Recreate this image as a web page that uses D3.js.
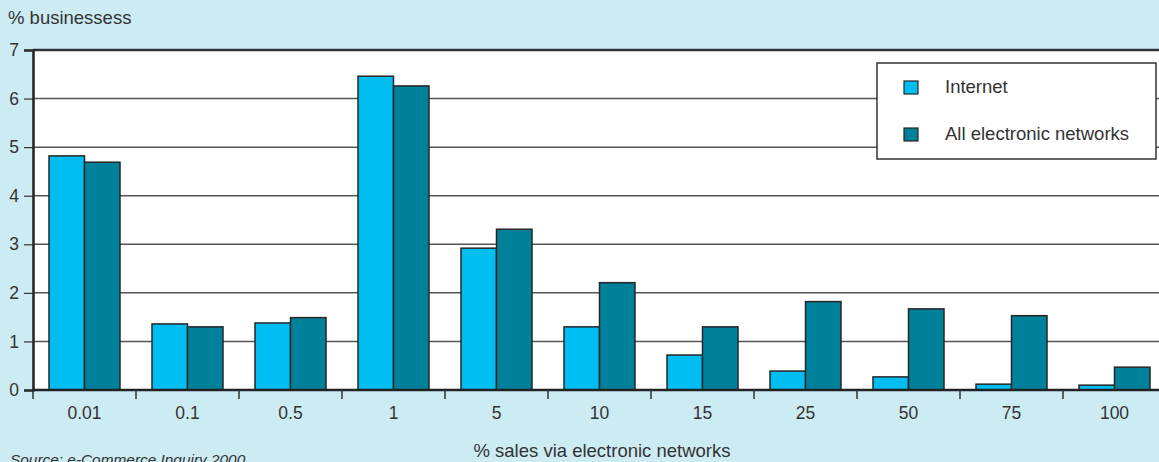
<!DOCTYPE html>
<html>
<head>
<meta charset="utf-8">
<script src="https://cdn.jsdelivr.net/npm/d3@7"></script>
<style>
  html, body { margin: 0; padding: 0; background: #cdebf3; }
  svg { display: block; font-family: "Liberation Sans", Arial, sans-serif; }
</style>
</head>
<body>
<svg id="chart" width="1159" height="462"></svg>
<script>
// Share of businesses by percentage of sales made via electronic networks
const categories = ["0.01", "0.1", "0.5", "1", "5", "10", "15", "25", "50", "75", "100"];
const seriesNames = ["Internet", "All electronic networks"];
const internetValues = [4.82, 1.36, 1.38, 6.46, 2.92, 1.30, 0.72, 0.39, 0.27, 0.12, 0.10];
const allNetworkValues = [4.69, 1.30, 1.49, 6.26, 3.31, 2.21, 1.30, 1.82, 1.67, 1.53, 0.47];
const yTicks = [0, 1, 2, 3, 4, 5, 6, 7];
const seriesColors = ["#00bef2", "#00819b"];

const svg = d3.select("#chart");
const W = 1159, H = 462;
const plotLeft = 33, plotTop = 50, plotBottom = 390;
const step = 103;
const tickFont = 17.5, textFont = 18.5;

const x = d3.scaleBand().domain(categories).range([plotLeft, plotLeft + step * categories.length]).padding(0);
const xInner = d3.scaleBand().domain(seriesNames).range([16, step - 16]).padding(0);
const y = d3.scaleLinear().domain([0, 7]).range([plotBottom, plotTop]);
const color = d3.scaleOrdinal().domain(seriesNames).range(seriesColors);

// Plot background
svg.append("rect")
  .attr("x", plotLeft).attr("y", plotTop)
  .attr("width", W - plotLeft + 10).attr("height", plotBottom - plotTop)
  .attr("fill", "#ffffff");

// Horizontal gridlines
svg.append("g").selectAll("line")
  .data(yTicks.filter(t => t > 0 && t < 7))
  .join("line")
  .attr("x1", plotLeft).attr("x2", W + 10)
  .attr("y1", d => y(d)).attr("y2", d => y(d))
  .attr("stroke", "#555").attr("stroke-width", 1.5);

// Top frame line at 7
svg.append("line")
  .attr("x1", plotLeft).attr("x2", W + 10)
  .attr("y1", y(7)).attr("y2", y(7))
  .attr("stroke", "#333").attr("stroke-width", 2.5);

// Bars
const rows = categories.map((c, i) => ({
  cat: c,
  vals: [
    { key: seriesNames[0], v: internetValues[i] },
    { key: seriesNames[1], v: allNetworkValues[i] }
  ]
}));

const groups = svg.append("g").selectAll("g")
  .data(rows).join("g")
  .attr("transform", d => `translate(${x(d.cat)},0)`);

groups.selectAll("rect")
  .data(d => d.vals).join("rect")
  .attr("x", d => xInner(d.key))
  .attr("y", d => y(d.v))
  .attr("width", xInner.bandwidth())
  .attr("height", d => y(0) - y(d.v))
  .attr("fill", d => color(d.key))
  .attr("stroke", "#262626")
  .attr("stroke-width", 1.5);

// Y axis
const yAxis = svg.append("g")
  .attr("transform", `translate(${plotLeft},0)`)
  .call(d3.axisLeft(y).tickValues(yTicks).tickFormat(d3.format("d")).tickSize(9).tickPadding(5));
yAxis.select(".domain").attr("stroke", "#222").attr("stroke-width", 2.5);
yAxis.selectAll(".tick line").attr("stroke", "#333").attr("stroke-width", 1.2);
yAxis.selectAll(".tick text").attr("font-size", tickFont).attr("fill", "#333")
  .attr("font-family", "'Liberation Sans', Arial, sans-serif");

// X axis: labels centred in bands, ticks on band boundaries
const xAxis = svg.append("g")
  .attr("transform", `translate(0,${plotBottom})`)
  .call(d3.axisBottom(x).tickSize(0).tickPadding(16.5));
xAxis.select(".domain").remove();
xAxis.selectAll(".tick text").attr("font-size", tickFont).attr("fill", "#333")
  .attr("font-family", "'Liberation Sans', Arial, sans-serif");

svg.append("line")
  .attr("x1", plotLeft - 1).attr("x2", W + 10)
  .attr("y1", plotBottom).attr("y2", plotBottom)
  .attr("stroke", "#222").attr("stroke-width", 2.5);

svg.append("g").selectAll("line")
  .data(categories).join("line")
  .attr("x1", d => x(d)).attr("x2", d => x(d))
  .attr("y1", plotBottom).attr("y2", plotBottom + 9)
  .attr("stroke", "#333").attr("stroke-width", 1.5);

// Titles
svg.append("text").attr("x", 8).attr("y", 24)
  .attr("font-size", textFont).attr("fill", "#333").text("% businessess");

svg.append("text").attr("x", 602).attr("y", 457)
  .attr("text-anchor", "middle")
  .attr("font-size", textFont).attr("fill", "#333").text("% sales via electronic networks");

svg.append("text").attr("x", 10).attr("y", 465)
  .attr("font-size", 15.4).attr("font-style", "italic").attr("fill", "#333")
  .text("Source: e-Commerce Inquiry 2000");

// Legend
const legend = svg.append("g");
legend.append("rect")
  .attr("x", 877).attr("y", 63).attr("width", 279).attr("height", 96)
  .attr("fill", "#fff").attr("stroke", "#333").attr("stroke-width", 1.5);
const items = legend.selectAll("g.item").data(seriesNames).join("g")
  .attr("class", "item")
  .attr("transform", (d, i) => `translate(0,${i * 47})`);
items.append("rect")
  .attr("x", 904).attr("y", 81).attr("width", 14).attr("height", 13)
  .attr("fill", d => color(d)).attr("stroke", "#262626").attr("stroke-width", 1.2);
items.append("text")
  .attr("x", 945).attr("y", 93)
  .attr("font-size", textFont).attr("fill", "#333")
  .text(d => d);
</script>
</body>
</html>
